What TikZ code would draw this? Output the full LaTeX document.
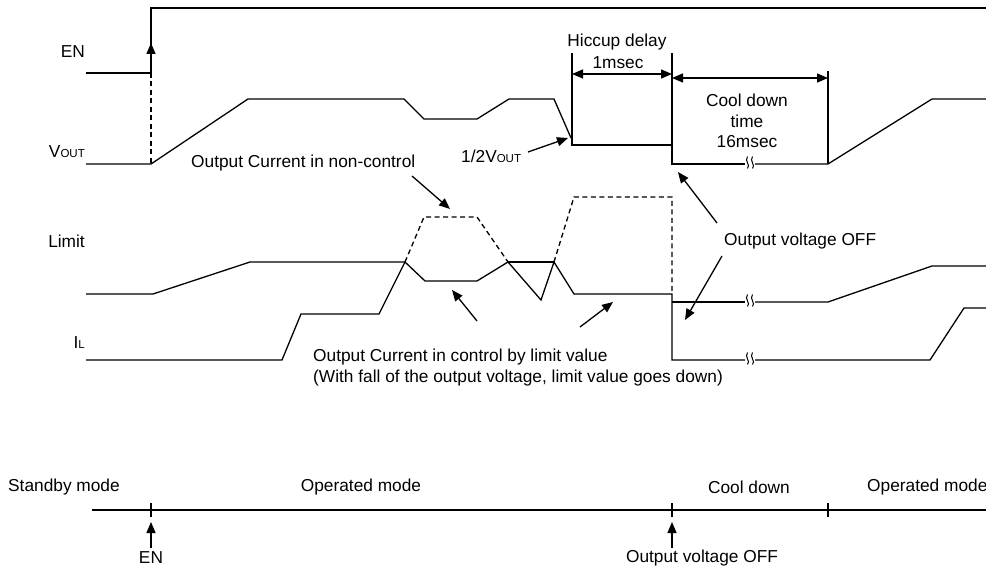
\documentclass[tikz,border=0pt]{standalone}
\usepackage{fontspec}
\setmainfont{Liberation Sans}
\usetikzlibrary{arrows.meta}
\newcommand{\smallsc}[1]{{\fontsize{11.5}{13}\selectfont #1}}
\begin{document}
\begin{tikzpicture}[x=1pt,y=-1pt,
  sig/.style={line width=1.3pt, line join=miter},
  dsh/.style={line width=1.3pt, dash pattern=on 5pt off 3.5pt},
  arr/.style={line width=1.3pt, -{Triangle[length=11pt,width=9pt]}},
  darr/.style={line width=1.3pt, {Triangle[length=11pt,width=9pt]}-{Triangle[length=11pt,width=9pt]}},
  lbl/.style={inner sep=0pt, font=\fontsize{17.3}{20.5}\selectfont},
  brk/.pic={\draw[line width=1pt] (-2.5,-6.5) .. controls (-6,-2) and (1,2) .. (-2.5,5.5);
            \draw[line width=1pt] (2.5,-6.5) .. controls (-1,-2) and (6,2) .. (2.5,5.5);}
]
\useasboundingbox (0,0) rectangle (986,569);
\clip (0,0) rectangle (986,569);

% ---------- labels on the left
\node[lbl, anchor=east] (en) at (85,52) {EN};
\node[lbl, anchor=east] (vout) at (85,152) {V\smallsc{OUT}};
\node[lbl, anchor=east] (limit) at (85,241) {Limit};
\node[lbl, anchor=east] (il) at (85,343) {I\smallsc{L}};

% ---------- EN signal
\draw[sig] (86,73) -- (151,73) -- (151,8) -- (986,8);
\draw[arr] (151,73) -- (151,43);
\draw[dsh] (151,73) -- (151,164);

% ---------- VOUT signal
\draw[sig] (86,164) -- (151,164) -- (248,99) -- (404,99) -- (424,119) -- (477,119) -- (509,99) -- (554,99) -- (571,138);
\draw[sig] (572,53) -- (572,145) -- (672,145);
\draw[sig] (672,53) -- (672,164) -- (745,164);
\draw[sig] (755,164) -- (828,164) -- (932,99) -- (986,99);
\draw[sig] (828,71) -- (828,164);
\pic at (750,163) {brk};

% dimension arrows
\coordinate (h1) at (572,74);
\coordinate (h2) at (672,74);
\coordinate (c1) at (672,78);
\coordinate (c2) at (828,78);
\draw[darr] (h1) -- (h2);
\draw[darr] (c1) -- (c2);
\node[lbl] (hic) at (617,42) {Hiccup delay};
\node[lbl] (ms1) at (618,63) {1msec};
\node[lbl, align=center] (cool) at (747,121) {Cool down\\time\\16msec};

% 1/2 VOUT
\node[lbl, anchor=west] (half) at (461,156) {1/2V\smallsc{OUT}};
\coordinate (halfs) at (528,152);
\coordinate (halft) at (568,138);
\draw[arr] (halfs) -- (halft);

% ---------- Limit and IL
\draw[sig] (86,294) -- (153,294) -- (250,262) -- (405,262);
\draw[sig] (508,262) -- (554,262);
\draw[sig] (86,360) -- (282,360) -- (301,314) -- (379,314) -- (405,262) -- (425,281) -- (477,281) -- (508,262) -- (541,300) -- (554,262) -- (574,294) -- (672,294) -- (672,360) -- (745,360);
\draw[sig] (755,360) -- (930,360) -- (964,308) -- (986,308);
\pic at (750,359) {brk};
\draw[sig] (672,302) -- (745,302);
\draw[sig] (755,302) -- (828,302) -- (932,266) -- (986,266);
\pic at (750,301) {brk};

% non-control dashed
\draw[dsh] (405,262) -- (424,217) -- (477,217) -- (508,262);
\draw[dsh] (554,262) -- (574,197) -- (672,197) -- (672,294);

% annotations
\node[lbl, anchor=west] (nonc) at (191,163) {Output Current in non-control};
\coordinate (ncs) at (412,176);
\coordinate (nct) at (450,209);
\draw[arr] (ncs) -- (nct);

\node[lbl, anchor=north west, align=left] (ctrl) at (313,349) {Output Current in control by limit value\\(With fall of the output voltage, limit value goes down)};
\coordinate (cs1) at (477,321);
\coordinate (ct1) at (452,290);
\coordinate (cs2) at (580,327);
\coordinate (ct2) at (613,302);
\draw[arr] (cs1) -- (ct1);
\draw[arr] (cs2) -- (ct2);

\node[lbl, anchor=west] (off) at (724,241) {Output voltage OFF};
\coordinate (os1) at (717,223);
\coordinate (ot1) at (678,172);
\coordinate (os2) at (722,256);
\coordinate (ot2) at (685,320);
\draw[arr] (os1) -- (ot1);
\draw[arr] (os2) -- (ot2);

% ---------- mode timeline
\coordinate (tl0) at (92,510);
\coordinate (tl1) at (986,510);
\draw[sig] (tl0) -- (tl1);
\foreach \x in {151,672,828} \draw[sig] (\x,503) -- (\x,517);
\node[lbl, anchor=west] (stb) at (8,487) {Standby mode};
\node[lbl] (op1) at (361,487) {Operated mode};
\node[lbl] (cd) at (749,487) {Cool down};
\node[lbl, anchor=west] (op2) at (867,487) {Operated mode};
\node[lbl] (ben) at (151,558) {EN};
\node[lbl] (boff) at (702,558) {Output voltage OFF};
\coordinate (be) at (151,522);
\coordinate (bo) at (672,522);
\draw[arr] (151,548) -- (be);
\draw[arr] (672,548) -- (bo);
\end{tikzpicture}
\end{document}
